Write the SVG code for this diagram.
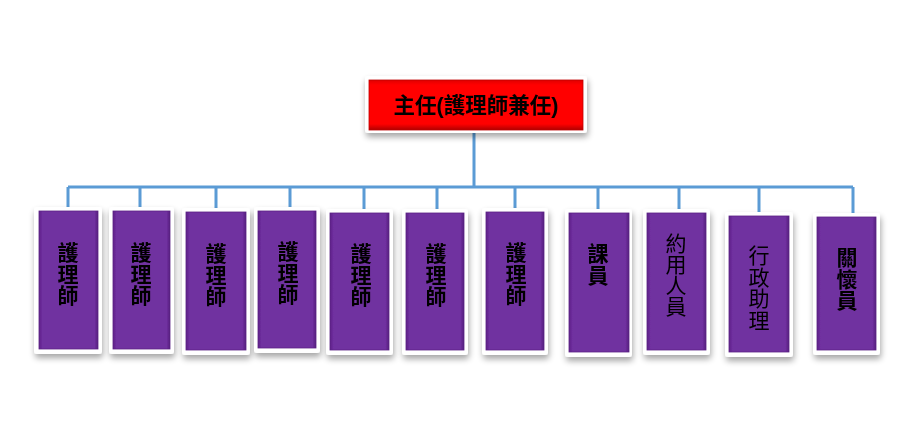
<svg xmlns="http://www.w3.org/2000/svg" width="918" height="431" viewBox="0 0 918 431">
<defs>
<filter id="sh" x="-20%" y="-20%" width="140%" height="140%">
<feGaussianBlur in="SourceAlpha" stdDeviation="3"/>
<feOffset dx="1" dy="4" result="b"/>
<feComponentTransfer><feFuncA type="linear" slope="0.35"/></feComponentTransfer>
<feMerge><feMergeNode/><feMergeNode in="SourceGraphic"/></feMerge>
</filter>
<linearGradient id="pg" x1="0" y1="0" x2="1" y2="0">
<stop offset="0" stop-color="#5e2288"/>
<stop offset="0.06" stop-color="#7030a0"/>
<stop offset="0.94" stop-color="#7030a0"/>
<stop offset="1" stop-color="#56207e"/>
</linearGradient>
<linearGradient id="rg" x1="0" y1="0" x2="0" y2="1">
<stop offset="0" stop-color="#e00000"/>
<stop offset="0.1" stop-color="#ff0000"/>
<stop offset="0.88" stop-color="#ff0000"/>
<stop offset="1" stop-color="#b00000"/>
</linearGradient>
</defs>
<style>
.frame{fill:#ffffff;}
.p{fill:url(#pg);stroke:#5a2184;stroke-width:0.8;}
.r{fill:url(#rg);stroke:#c00000;stroke-width:0.8;}
.t{font-family:"Liberation Sans","Noto Sans CJK TC",sans-serif;font-size:21px;font-weight:bold;fill:#000;text-anchor:middle;}
.tn{font-weight:normal;}
.rt{font-size:21.5px;}
.c{fill:none;stroke:#5b9bd5;stroke-width:3;}
</style>
<rect width="918" height="431" fill="#ffffff"/>
<g id="connectors">
<path class="c" d="M474 133 V187 M68 187 H853 M68 187 V208 M140 187 V208 M216 187 V209 M290 187 V208 M364 187 V210 M437 187 V210 M515 187 V209 M598 187 V210 M679 187 V210 M759 187 V213 M853 187 V214"/>
</g>
<g id="root" filter="url(#sh)">
<rect class="frame" x="365" y="76" width="222" height="57" rx="3"/>
<rect class="r" x="369" y="80" width="214" height="50"/>
<text class="t rt" x="476" y="113">主任(護理師兼任)</text>
</g>
<g id="n1" filter="url(#sh)">
<rect class="frame" x="34" y="207" width="68" height="147" rx="3"/>
<rect class="p" x="39" y="211" width="59" height="138"/>
<text class="t" x="68" y="260"><tspan x="68">護</tspan><tspan x="68" dy="21.5">理</tspan><tspan x="68" dy="21.5">師</tspan></text>
</g>
<g id="n2" filter="url(#sh)">
<rect class="frame" x="109" y="207" width="65" height="147" rx="3"/>
<rect class="p" x="113" y="211" width="57" height="138"/>
<text class="t" x="141" y="260"><tspan x="141">護</tspan><tspan x="141" dy="21.5">理</tspan><tspan x="141" dy="21.5">師</tspan></text>
</g>
<g id="n3" filter="url(#sh)">
<rect class="frame" x="182" y="208" width="68" height="147" rx="3"/>
<rect class="p" x="186" y="212" width="60" height="138"/>
<text class="t" x="216" y="261"><tspan x="216">護</tspan><tspan x="216" dy="21.5">理</tspan><tspan x="216" dy="21.5">師</tspan></text>
</g>
<g id="n4" filter="url(#sh)">
<rect class="frame" x="254" y="207" width="66" height="146" rx="3"/>
<rect class="p" x="258" y="211" width="58" height="137"/>
<text class="t" x="288" y="259"><tspan x="288">護</tspan><tspan x="288" dy="21.5">理</tspan><tspan x="288" dy="21.5">師</tspan></text>
</g>
<g id="n5" filter="url(#sh)">
<rect class="frame" x="326" y="209" width="67" height="146" rx="3"/>
<rect class="p" x="330" y="213" width="59" height="137"/>
<text class="t" x="361" y="261"><tspan x="361">護</tspan><tspan x="361" dy="21.5">理</tspan><tspan x="361" dy="21.5">師</tspan></text>
</g>
<g id="n6" filter="url(#sh)">
<rect class="frame" x="402" y="209" width="66" height="146" rx="3"/>
<rect class="p" x="406" y="213" width="58" height="137"/>
<text class="t" x="436" y="261"><tspan x="436">護</tspan><tspan x="436" dy="21.5">理</tspan><tspan x="436" dy="21.5">師</tspan></text>
</g>
<g id="n7" filter="url(#sh)">
<rect class="frame" x="482" y="208" width="66" height="147" rx="3"/>
<rect class="p" x="486" y="212" width="58" height="138"/>
<text class="t" x="516" y="260"><tspan x="516">護</tspan><tspan x="516" dy="21.5">理</tspan><tspan x="516" dy="21.5">師</tspan></text>
</g>
<g id="n8" filter="url(#sh)">
<rect class="frame" x="565" y="209" width="67" height="148" rx="3"/>
<rect class="p" x="569" y="213" width="60" height="139"/>
<text class="t" x="598" y="261"><tspan x="598">課</tspan><tspan x="598" dy="21.5">員</tspan></text>
</g>
<g id="n9" filter="url(#sh)">
<rect class="frame" x="643" y="209" width="67" height="146" rx="3"/>
<rect class="p" x="647" y="213" width="59" height="137"/>
<text class="t tn" x="676" y="251"><tspan x="676">約</tspan><tspan x="676" dy="21">用</tspan><tspan x="676" dy="21">人</tspan><tspan x="676" dy="21">員</tspan></text>
</g>
<g id="n10" filter="url(#sh)">
<rect class="frame" x="725" y="212" width="68" height="145" rx="3"/>
<rect class="p" x="729" y="216" width="60" height="136"/>
<text class="t tn" x="759" y="263"><tspan x="759">行</tspan><tspan x="759" dy="21.5">政</tspan><tspan x="759" dy="21.5">助</tspan><tspan x="759" dy="21.5">理</tspan></text>
</g>
<g id="n11" filter="url(#sh)">
<rect class="frame" x="813" y="213" width="67" height="142" rx="3"/>
<rect class="p" x="817" y="217" width="59" height="133"/>
<text class="t" x="847" y="265"><tspan x="847">關</tspan><tspan x="847" dy="21.5">懷</tspan><tspan x="847" dy="21.5">員</tspan></text>
</g>
</svg>
